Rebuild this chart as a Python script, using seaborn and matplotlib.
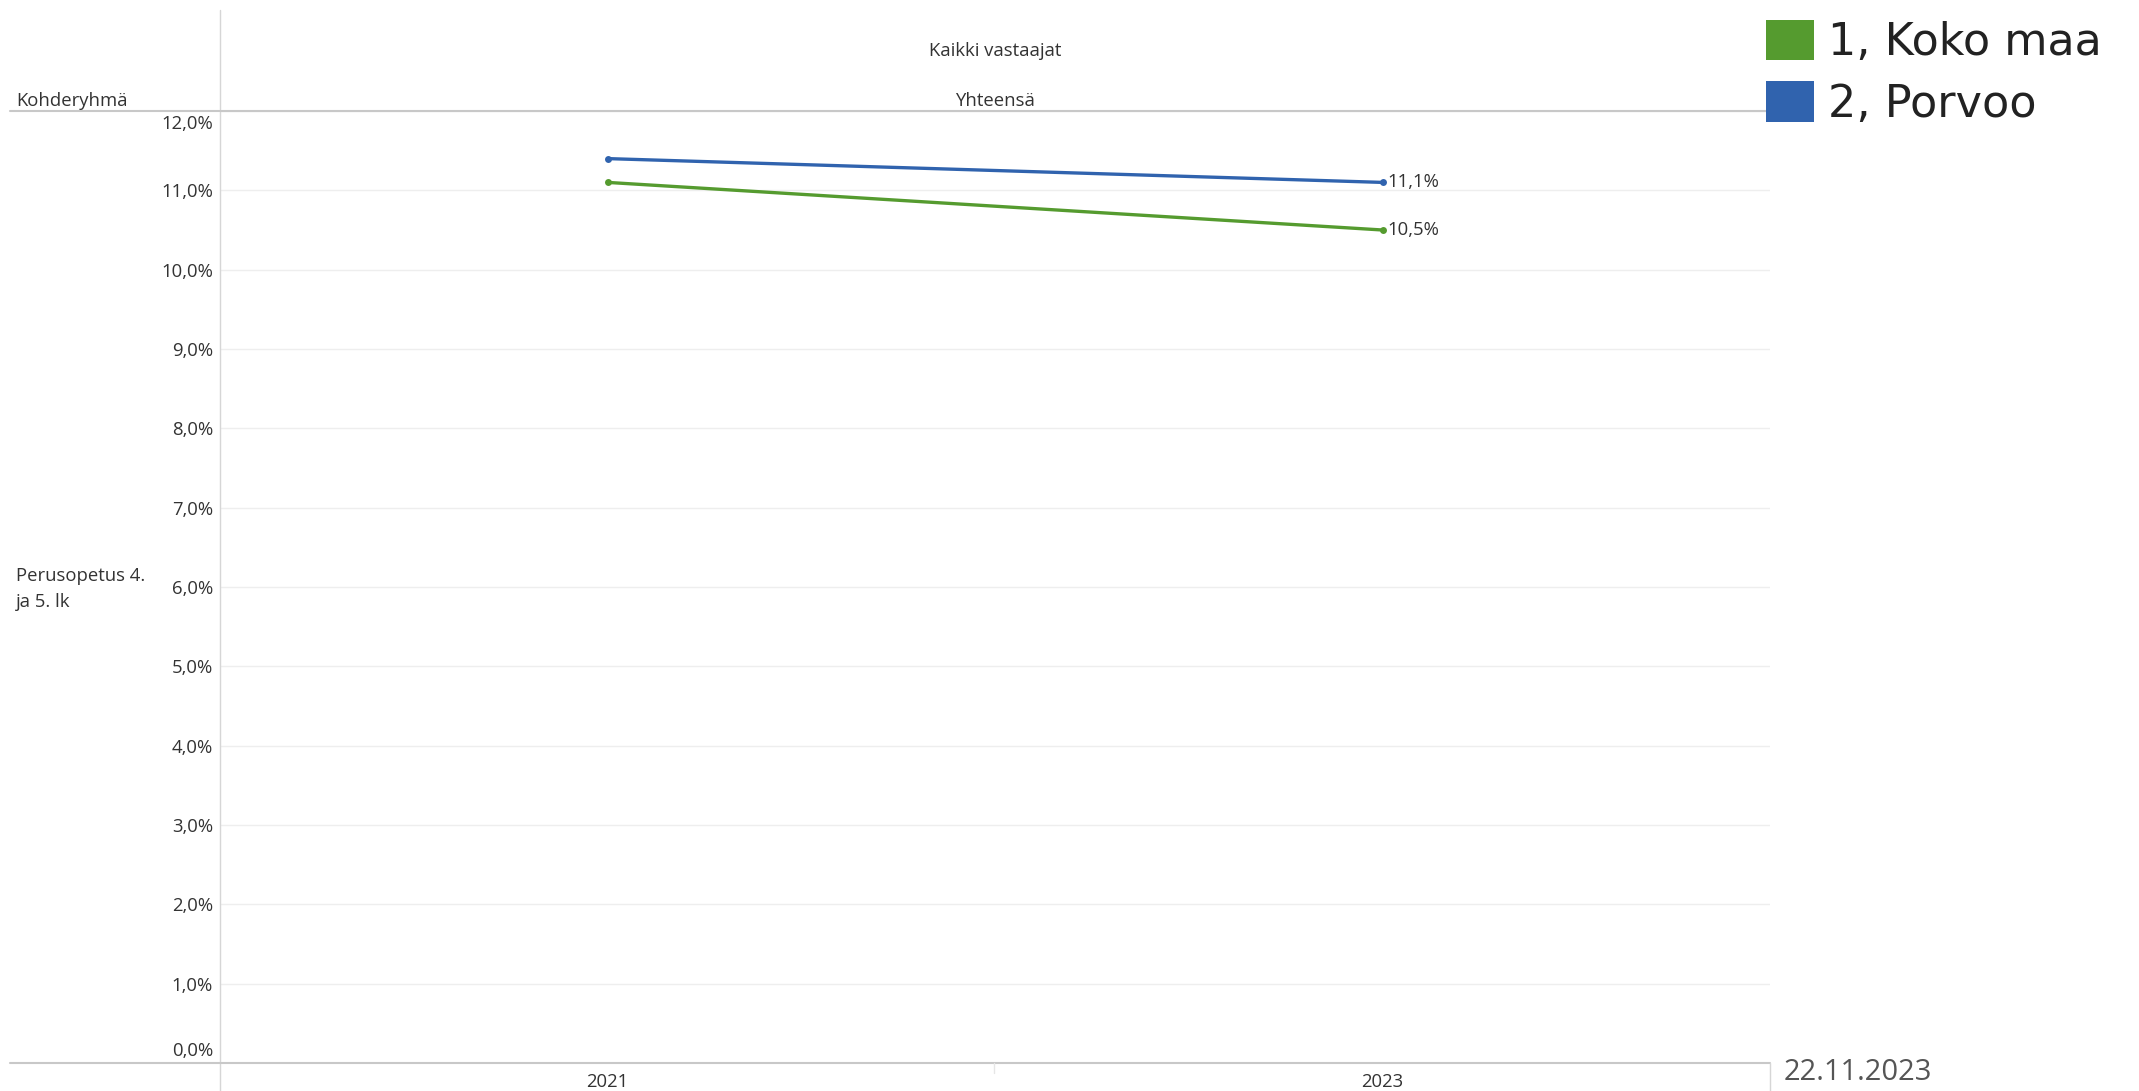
import matplotlib
matplotlib.use("Agg")
import matplotlib.pyplot as plt
import seaborn as sns
import pandas as pd
from matplotlib.lines import Line2D
from matplotlib.patches import Patch
from matplotlib.ticker import FuncFormatter, FixedLocator
from matplotlib.transforms import ScaledTranslation

# ---- data ----
years = ["2021", "2023"]
koko_maa = [11.1, 10.5]
porvoo = [11.4, 11.1]
series_names = ["1, Koko maa", "2, Porvoo"]
series_colors = ["#559B2F", "#3063AE"]
y_ticks = list(range(0, 13))
title_top = "Kaikki vastaajat"
title_sub = "Yhteensä"
row_header = "Kohderyhmä"
row_label = "Perusopetus 4.\nja 5. lk"
date_text = "22.11.2023"

palette = dict(zip(series_names, series_colors))
df = pd.DataFrame({
    "Vuosi": years + years,
    "Osuus": koko_maa + porvoo,
    "Alue": [series_names[0]] * len(years) + [series_names[1]] * len(years),
})

sns.set_theme(style="white")
plt.rcParams["font.family"] = ["Open Sans", "DejaVu Sans"]

W, H = 2139, 1091
fig = plt.figure(figsize=(W / 100, H / 100), dpi=100)


def fx(px):
    return px / W


def fy(py):
    return 1 - py / H


def pct(v):
    return f"{v:.1f}".replace(".", ",") + "%"


FS = 13.3
ax = fig.add_axes([fx(220), fy(1063), fx(1770) - fx(220), fy(111) - fy(1063)])
sns.lineplot(data=df, x="Vuosi", y="Osuus", hue="Alue", palette=palette,
             marker="o", markersize=5, markeredgewidth=0, linewidth=2.4,
             legend=False, ax=ax, sort=False)
ax.set_xlim(-0.5, len(years) - 0.5)
ax.set_ylim(min(y_ticks), max(y_ticks))
ax.yaxis.set_major_locator(FixedLocator(y_ticks))
ax.yaxis.set_major_formatter(FuncFormatter(lambda v, p: pct(v)))
ax.grid(axis="y", color="#eeeeee", lw=1)
ax.grid(axis="x", visible=False)
for s in ax.spines.values():
    s.set_visible(False)
ax.tick_params(axis="y", length=0, pad=5, labelsize=FS, labelcolor="#333333")
ax.tick_params(axis="x", length=0, pad=7, labelsize=FS, labelcolor="#333333")
ax.set_xlabel("")
ax.set_ylabel("")

yt = ax.yaxis.get_major_ticks()
lab0 = yt[0].label1
lab0.set_verticalalignment("bottom")
lab0.set_transform(lab0.get_transform() + ScaledTranslation(0, 3 / 100, fig.dpi_scale_trans))
labN = yt[-1].label1
labN.set_verticalalignment("top")
labN.set_transform(labN.get_transform() + ScaledTranslation(0, -4 / 100, fig.dpi_scale_trans))

# end labels
for name, vals in zip(series_names, [koko_maa, porvoo]):
    ax.annotate(pct(vals[-1]), xy=(len(years) - 1, vals[-1]), xytext=(3.5, 0),
                textcoords="offset points", ha="left", va="center",
                fontsize=FS, color="#333333")

# legend
LFS = 32
handles = [Patch(facecolor=palette[n], edgecolor="none", label=n) for n in series_names]
fig.legend(handles=handles, loc="upper left", bbox_to_anchor=(fx(1766), fy(20)),
           frameon=False, prop={"family": "DejaVu Sans", "size": LFS},
           handlelength=1.08, handleheight=1.02, handletextpad=0.32,
           labelspacing=0.38, borderpad=0, borderaxespad=0, labelcolor="#222222")

# header texts
fig.text(fx(995), fy(51), title_top, ha="center", va="center", fontsize=FS, color="#333333")
fig.text(fx(995), fy(101), title_sub, ha="center", va="center", fontsize=FS, color="#333333")
fig.text(fx(16), fy(101), row_header, ha="left", va="center", fontsize=FS, color="#333333")
fig.text(fx(16), fy(589), row_label, ha="left", va="center", fontsize=FS,
         color="#333333", linespacing=1.55)
fig.text(fx(1784), fy(1072), date_text, ha="left", va="center", fontsize=21, color="#555555")

# table frame lines
def fline(x0, y0, x1, y1, color, lw):
    fig.add_artist(Line2D([fx(x0), fx(x1)], [fy(y0), fy(y1)], color=color, lw=lw,
                          transform=fig.transFigure))


fline(220, 10, 220, 1091, "#d6d6d6", 1.0)
fline(10, 111, 1770, 111, "#c8c8c8", 1.5)
fline(10, 1063, 1770, 1063, "#c8c8c8", 1.5)
fline(1770, 1063, 1770, 1091, "#d6d6d6", 1.0)
fline(994, 1063, 994, 1073, "#e6e6e6", 1.0)

fig.savefig("out.png", dpi=100)
